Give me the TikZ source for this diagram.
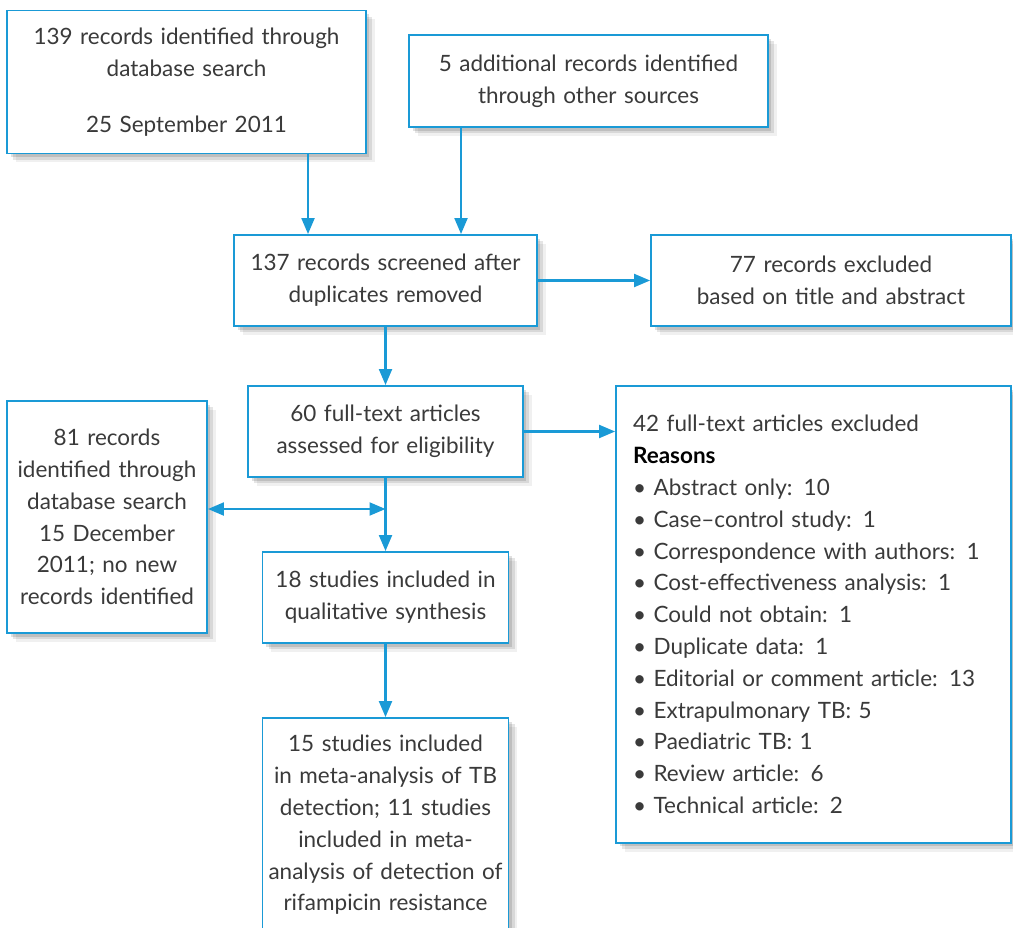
\documentclass[tikz,border=0pt]{standalone}
\usepackage{fontspec}
\setmainfont{Lato}
\usetikzlibrary{arrows.meta,shadows}
\definecolor{flowblue}{HTML}{1A9AD6}
\definecolor{flowtext}{HTML}{3A3A3A}

\begin{document}
\begin{tikzpicture}[x=0.02cm, y=-0.02cm,
    box/.style={draw=flowblue, line width=1.1pt, fill=white, text=flowtext, align=center, inner sep=0pt,
      font=\fontsize{12.8}{18.1}\selectfont,
      drop shadow={shadow xshift=5pt, shadow yshift=-5pt, opacity=0.06, fill=black},
      drop shadow={shadow xshift=3.5pt, shadow yshift=-3.5pt, opacity=0.1, fill=black},
      drop shadow={shadow xshift=2pt, shadow yshift=-2pt, opacity=0.12, fill=black}},
    link/.style={draw=flowblue, line width=1.2pt, -{Triangle[length=0.32cm, width=0.26cm]}}
]
  \useasboundingbox (0,0) rectangle (1013,927);
  \clip (0,0) rectangle (1013,927);

  \node[box, minimum width=7.18cm, minimum height=2.86cm, text width=7.1cm] (search) at (186.5,82)
    {139 records identified through\\database search\\[0.48cm]25 September 2011};
  \node[box, minimum width=7.18cm, minimum height=1.84cm, text width=7.1cm] (other) at (588.5,81)
    {5 additional records identified\\through other sources};
  \node[box, minimum width=6.06cm, minimum height=1.82cm, text width=6.0cm] (screened) at (385.5,280.5)
    {137 records screened after\\duplicates removed};
  \node[box, minimum width=7.2cm, minimum height=1.82cm, text width=7.1cm] (excluded) at (831,280.5)
    {77 records excluded\\based on title and abstract};
  \node[box, minimum width=5.5cm, minimum height=1.82cm, text width=5.45cm] (fulltext) at (385.5,431.5)
    {60 full-text articles\\assessed for eligibility};
  \node[box, align=left, minimum width=7.9cm, minimum height=9.14cm, text width=7.22cm] (reasons) at (813.5,614.5)
    {42 full-text articles excluded\\
     {\bfseries\color{black}Reasons}\\
     \textbullet\ Abstract only: 10\\
     \textbullet\ Case–control study: 1\\
     \textbullet\ Correspondence with authors: 1\\
     \textbullet\ Cost-effectiveness analysis: 1\\
     \textbullet\ Could not obtain: 1\\
     \textbullet\ Duplicate data: 1\\
     \textbullet\ Editorial or comment article: 13\\
     \textbullet\ Extrapulmonary TB: 5\\
     \textbullet\ Paediatric TB: 1\\
     \textbullet\ Review article: 6\\
     \textbullet\ Technical article: 2};
  \node[box, minimum width=4.0cm, minimum height=4.64cm, text width=3.96cm] (update) at (107,517)
    {81 records\\identified through\\database search\\15 December\\2011; no new\\records identified};
  \node[box, minimum width=4.92cm, minimum height=1.82cm, text width=4.9cm] (qualitative) at (385.5,597.5)
    {18 studies included in\\qualitative synthesis};
  \node[box, minimum width=4.92cm, minimum height=4.28cm, text width=4.9cm] (meta) at (385.5,825)
    {15 studies included\\in meta-analysis of TB\\detection; 11 studies\\included in meta-\\analysis of detection of\\rifampicin resistance};

  \coordinate (s1) at (308,0);
  \coordinate (s2) at (461,0);
  \coordinate (join) at (385.5,509);
  \draw[link] (search.south -| s1) -- (screened.north -| s1);
  \draw[link] (other.south -| s2) -- (screened.north -| s2);
  \draw[link] (screened) -- (excluded);
  \draw[link] (screened) -- (fulltext);
  \draw[link] (fulltext.east) -- (fulltext.east -| reasons.west);
  \draw[link] (fulltext) -- (qualitative);
  \draw[link, {Triangle[length=0.32cm, width=0.26cm]}-{Triangle[length=0.32cm, width=0.26cm]}] (update.east |- join) -- (join);
  \draw[link] (qualitative) -- (meta);
\end{tikzpicture}
\end{document}
